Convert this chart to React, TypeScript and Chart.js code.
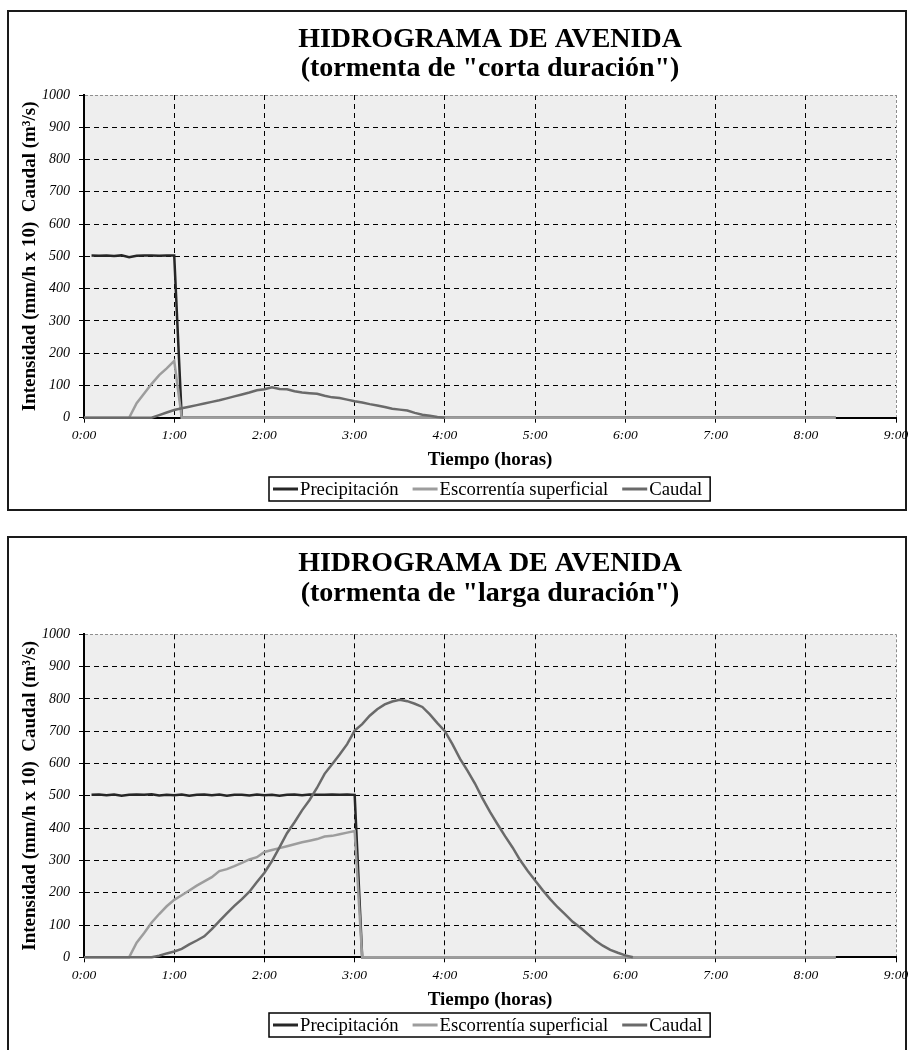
import React, { useEffect, useRef } from "react";
import { Chart, registerables } from "chart.js";

Chart.register(...registerables);

const SERIF = '"Liberation Serif", "Times New Roman", serif';

// ---- Shared labels / styling ----
const SERIES_NAMES = ["Precipitación", "Escorrentía superficial", "Caudal"];
const SERIES_COLORS = ["#262626", "#9d9d9d", "#6a6a6a"];
const X_TITLE = "Tiempo (horas)";
const Y_TITLE = "Intensidad (mm/h x 10)  Caudal (m³/s)";
const TITLE_LINE_1 = "HIDROGRAMA DE AVENIDA";
const X_MAX_MIN = 540; // 9:00
const Y_MAX = 1000;
const STEP_MIN = 5; // data sampled every 5 minutes
const END_MIN = 500; // 8:20, end of the recorded series

// ---- Chart 1: tormenta de "corta duración" ----
const subtitle1 = '(tormenta de "corta duración")';
const precip1Start = 5;
const precip1 = [503, 502, 503, 501, 503, 497, 502, 503, 503, 502, 503, 503, 0];
const escorr1Start = 30;
const escorr1 = [0, 45, 75, 105, 132, 153, 176, 0];
const caudal1Start = 45;
const caudal1 = [
  0, 8, 16, 24, 29, 34, 39, 44, 49, 54, 60, 66, 72, 78, 85, 88, 94, 89, 88, 82,
  78, 76, 74, 68, 63, 61, 56, 51, 47, 42, 38, 33, 28, 25, 22, 15, 9, 6, 2, 0,
];

// ---- Chart 2: tormenta de "larga duración" ----
const subtitle2 = '(tormenta de "larga duración")';
const precip2Start = 5;
const precip2 = [
  503, 504, 502, 504, 500, 503, 504, 503, 505, 501, 503, 502, 504, 500, 503, 504,
  502, 504, 500, 503, 503, 501, 504, 502, 503, 500, 503, 504, 502, 504, 503, 503,
  504, 503, 504, 503, 0,
];
const escorr2Start = 30;
const escorr2 = [
  0, 45, 75, 108, 134, 158, 178, 192, 207, 222, 235, 248, 267, 273, 282, 292, 303,
  310, 326, 332, 338, 344, 350, 356, 361, 366, 374, 376, 381, 386, 391, 0,
];
const caudal2Start = 45;
const caudal2 = [
  0, 5, 12, 18, 26, 40, 52, 65, 87, 112, 136, 159, 180, 203, 233, 262, 298, 340,
  384, 418, 455, 487, 525, 568, 598, 628, 660, 702, 722, 748, 768, 783, 792, 797,
  793, 785, 775, 752, 725, 700, 660, 615, 578, 538, 492, 450, 412, 375, 340, 301,
  268, 238, 208, 180, 155, 133, 110, 92, 72, 52, 36, 23, 14, 6, 0,
];

type Pt = { x: number; y: number };
function toPoints(start: number, values: number[], leadZero: boolean, tailZero: boolean): Pt[] {
  const pts: Pt[] = [];
  if (leadZero) pts.push({ x: 0, y: 0 });
  values.forEach((v, i) => pts.push({ x: start + i * STEP_MIN, y: v }));
  if (tailZero) pts.push({ x: END_MIN, y: 0 });
  return pts;
}

const GRID_GRAY = "#8e8e8e";

const decorPlugin = {
  id: "decor",
  beforeDraw(chart: any) {
    const { ctx, chartArea } = chart;
    ctx.save();
    ctx.fillStyle = "#eeeeee";
    ctx.fillRect(chartArea.left, chartArea.top, chartArea.right - chartArea.left, chartArea.bottom - chartArea.top);
    ctx.restore();
  },
  afterDraw(chart: any, _args: any, opts: any) {
    const { ctx, chartArea } = chart;
    const cx = (chartArea.left + chartArea.right) / 2;
    ctx.save();
    // Title
    ctx.fillStyle = "#000";
    ctx.textAlign = "center";
    ctx.textBaseline = "middle";
    ctx.font = `bold 28px ${SERIF}`;
    ctx.fillText(opts.title1, cx, opts.titleY1);
    ctx.fillText(opts.title2, cx, opts.titleY2);

    // Legend box
    ctx.font = `18.7px ${SERIF}`;
    const sw = 25, gap = 2, itemGap = 14, padL = 4, padR = 8, h = 24;
    const widths = SERIES_NAMES.map((n) => ctx.measureText(n).width);
    const total = padL + widths.reduce((a, w) => a + sw + gap + w, 0) + itemGap * (SERIES_NAMES.length - 1) + padR;
    let x = Math.round(cx - total / 2);
    const top = opts.legendTop;
    ctx.fillStyle = "#fff";
    ctx.fillRect(x, top, total, h);
    ctx.strokeStyle = "#000";
    ctx.lineWidth = 1.5;
    ctx.strokeRect(x, top, total, h);
    x += padL;
    const my = top + h / 2;
    ctx.textAlign = "left";
    SERIES_NAMES.forEach((n, i) => {
      ctx.strokeStyle = SERIES_COLORS[i];
      ctx.lineWidth = 3;
      ctx.beginPath();
      ctx.moveTo(x, my);
      ctx.lineTo(x + sw, my);
      ctx.stroke();
      x += sw + gap;
      ctx.fillStyle = "#000";
      ctx.fillText(n, x, my + 1);
      x += widths[i] + itemGap;
    });
    ctx.restore();
  },
};

type Cfg = {
  boxTop: number;
  height: number;
  plotTop: number;
  plotBottom: number;
  titleY1: number;
  titleY2: number;
  legendTop: number;
  subtitle: string;
  precip: Pt[];
  escorr: Pt[];
  caudal: Pt[];
};

const X_SCALE_H = 55;
const CANVAS_W = 899;
const PLOT_RIGHT = 887;

function HydroChart({ cfg }: { cfg: Cfg }) {
  const ref = useRef<HTMLCanvasElement>(null);
  useEffect(() => {
    const datasets = [cfg.precip, cfg.escorr, cfg.caudal].map((data, i) => ({
      label: SERIES_NAMES[i],
      data,
      borderColor: SERIES_COLORS[i],
      backgroundColor: SERIES_COLORS[i],
      borderWidth: 2.5,
      pointRadius: 0,
      tension: 0,
      fill: false,
      clip: false as any,
      order: 2 - i,
    }));
    const chart = new Chart(ref.current as HTMLCanvasElement, {
      type: "line",
      data: { datasets },
      plugins: [decorPlugin],
      options: {
        animation: false,
        responsive: false,
        devicePixelRatio: 1,
        parsing: false as any,
        layout: {
          autoPadding: false,
          padding: {
            left: 0,
            top: cfg.plotTop,
            right: CANVAS_W - PLOT_RIGHT,
            bottom: cfg.height - cfg.plotBottom - X_SCALE_H,
          },
        },
        plugins: {
          legend: { display: false },
          tooltip: { enabled: false },
          title: { display: false },
          decor: {
            title1: TITLE_LINE_1,
            title2: cfg.subtitle,
            titleY1: cfg.titleY1,
            titleY2: cfg.titleY2,
            legendTop: cfg.legendTop,
          },
        } as any,
        scales: {
          x: {
            type: "linear",
            min: 0,
            max: X_MAX_MIN,
            ticks: {
              stepSize: 60,
              autoSkip: false,
              maxRotation: 0,
              padding: 5,
              color: "#000",
              font: { family: SERIF, style: "italic", size: 13.5 },
              callback: (v: any) => `${Number(v) / 60}:00`,
            },
            grid: {
              color: (c: any) => (c.tick && c.tick.value === X_MAX_MIN ? GRID_GRAY : "#000"),
              lineWidth: 1,
              tickLength: 5,
              tickColor: "#000",
              drawTicks: true,
            },
            border: {
              display: true,
              color: "#000",
              width: 2,
              dash: (c: any) => (c.tick && c.tick.value === X_MAX_MIN ? [3, 2] : [5, 4]),
            },
            title: {
              display: true,
              text: X_TITLE,
              color: "#000",
              font: { family: SERIF, weight: "bold", size: 19 },
              padding: { top: 0, bottom: 1.3 },
            },
            afterFit: (s: any) => {
              s.height = X_SCALE_H;
              s.paddingLeft = 0;
              s.paddingRight = 0;
            },
          },
          y: {
            type: "linear",
            min: 0,
            max: Y_MAX,
            ticks: {
              stepSize: 100,
              autoSkip: false,
              padding: 9,
              color: "#000",
              font: { family: SERIF, style: "italic", size: 14 },
              callback: (v: any) => String(v),
            },
            grid: {
              color: (c: any) => (c.tick && c.tick.value === Y_MAX ? GRID_GRAY : "#000"),
              lineWidth: 1,
              tickLength: 5,
              tickColor: "#000",
              drawTicks: true,
            },
            border: {
              display: true,
              color: "#000",
              width: 2,
              dash: (c: any) => (c.tick && c.tick.value === Y_MAX ? [3, 2] : [5, 4]),
            },
            title: {
              display: true,
              text: Y_TITLE,
              color: "#000",
              font: { family: SERIF, weight: "bold", size: 19 },
              padding: { top: 9.6, bottom: 0 },
            },
            afterFit: (s: any) => {
              s.width = 75;
              s.paddingTop = 0;
              s.paddingBottom = 0;
            },
          },
        } as any,
      },
    });
    return () => chart.destroy();
  }, [cfg]);

  return (
    <div
      style={{
        position: "absolute",
        left: 7,
        top: cfg.boxTop,
        width: 896,
        height: cfg.height,
        border: "2px solid #1a1a1a",
        background: "#fff",
      }}
    >
      <canvas
        ref={ref}
        width={CANVAS_W}
        height={cfg.height}
        style={{ display: "block", position: "absolute", left: 0, top: 0 }}
      />
    </div>
  );
}

const CFG1: Cfg = {
  boxTop: 10,
  height: 497,
  plotTop: 83,
  plotBottom: 405.7,
  titleY1: 27.5,
  titleY2: 57,
  legendTop: 465,
  subtitle: subtitle1,
  precip: toPoints(precip1Start, precip1, false, true),
  escorr: toPoints(escorr1Start, escorr1, true, true),
  caudal: toPoints(caudal1Start, caudal1, true, false),
};

const CFG2: Cfg = {
  boxTop: 536,
  height: 512,
  plotTop: 96.3,
  plotBottom: 419.3,
  titleY1: 26,
  titleY2: 56,
  legendTop: 475,
  subtitle: subtitle2,
  precip: toPoints(precip2Start, precip2, false, true),
  escorr: toPoints(escorr2Start, escorr2, true, true),
  caudal: toPoints(caudal2Start, caudal2, true, false),
};

export default function App() {
  return (
    <div>
      <HydroChart cfg={CFG1} />
      <HydroChart cfg={CFG2} />
    </div>
  );
}
